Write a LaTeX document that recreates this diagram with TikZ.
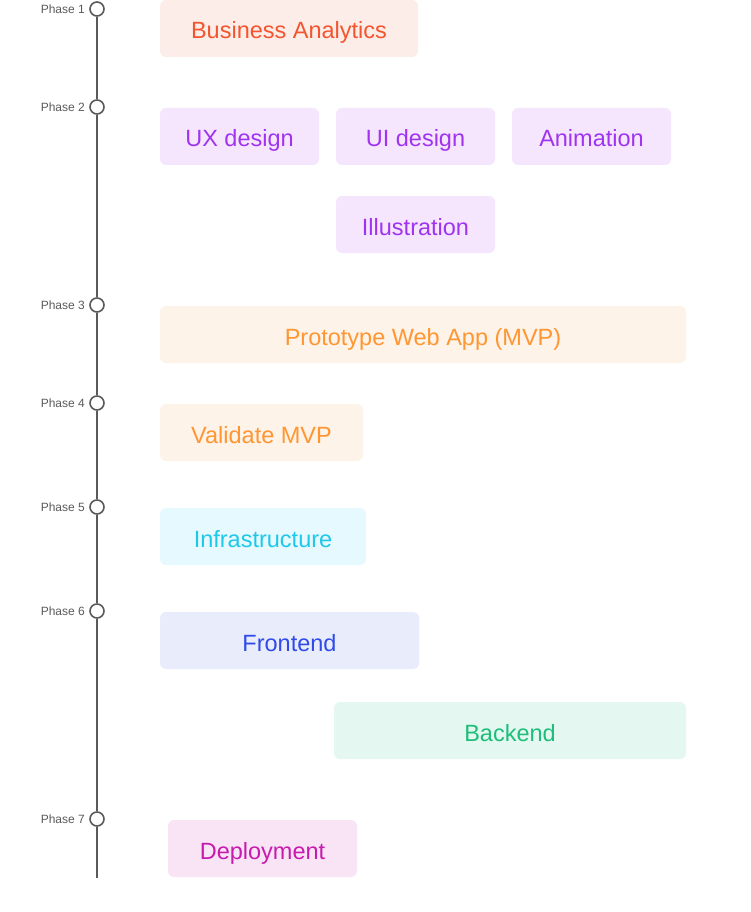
\documentclass[tikz,border=0pt]{standalone}
\usepackage{fontspec}
\setmainfont{Liberation Sans}
\definecolor{lineg}{HTML}{5A5A5A}
\definecolor{bafill}{HTML}{FDEDE8}\definecolor{batext}{HTML}{F4552F}
\definecolor{pufill}{HTML}{F5E6FE}\definecolor{putext}{HTML}{A033F0}
\definecolor{orfill}{HTML}{FEF3E8}\definecolor{ortext}{HTML}{FF9632}
\definecolor{cyfill}{HTML}{E6F9FE}\definecolor{cytext}{HTML}{1EC8E8}
\definecolor{blfill}{HTML}{E9ECFB}\definecolor{bltext}{HTML}{2F4BE8}
\definecolor{grfill}{HTML}{E4F7F0}\definecolor{grtext}{HTML}{1DBE7A}
\definecolor{mgfill}{HTML}{F9E4F6}\definecolor{mgtext}{HTML}{C71AAE}
\tikzset{
  phasedot/.style={circle,draw=lineg,fill=white,line width=1.6pt,minimum size=14pt,inner sep=0pt},
  phaselbl/.style={anchor=east,text=lineg,font=\fontsize{12}{14}\selectfont,inner sep=0pt},
  task/.style={rounded corners=6pt,minimum height=57pt,inner sep=0pt,
    text height=17pt,text depth=0pt,font=\fontsize{23.5}{28}\selectfont},
  tasktext/.style={inner sep=0pt,text height=17pt,text depth=0pt,font=\fontsize{23.5}{28}\selectfont,yshift=-2pt},
}
\begin{document}
\begin{tikzpicture}[x=1pt,y=-1pt]
\useasboundingbox (0,0) rectangle (750,912);
% timeline
\coordinate (tbot) at (97,878);
\node[phasedot] (p1) at (97,9) {};
\node[phasedot] (p2) at (97,107) {};
\node[phasedot] (p3) at (97,305) {};
\node[phasedot] (p4) at (97,403) {};
\node[phasedot] (p5) at (97,507) {};
\node[phasedot] (p6) at (97,611) {};
\node[phasedot] (p7) at (97,819) {};
\draw[lineg,line width=1.6pt] (p1.south) -- (p2.north);
\draw[lineg,line width=1.6pt] (p2.south) -- (p3.north);
\draw[lineg,line width=1.6pt] (p3.south) -- (p4.north);
\draw[lineg,line width=1.6pt] (p4.south) -- (p5.north);
\draw[lineg,line width=1.6pt] (p5.south) -- (p6.north);
\draw[lineg,line width=1.6pt] (p6.south) -- (p7.north);
\draw[lineg,line width=1.6pt] (p7.south) -- (tbot);
\node[phaselbl] (l1) at (85,9) {Phase 1};
\node[phaselbl] (l2) at (85,107) {Phase 2};
\node[phaselbl] (l3) at (85,305) {Phase 3};
\node[phaselbl] (l4) at (85,403) {Phase 4};
\node[phaselbl] (l5) at (85,507) {Phase 5};
\node[phaselbl] (l6) at (85,611) {Phase 6};
\node[phaselbl] (l7) at (85,819) {Phase 7};
% tasks
\node[task,fill=bafill,text=batext,minimum width=258pt] (ba) at (289,28.5) {};
\node[tasktext,text=batext] at (ba) {Business Analytics};
\node[task,fill=pufill,text=putext,minimum width=159pt] (ux) at (239.5,136.5) {};
\node[tasktext,text=putext] at (ux) {UX design};
\node[task,fill=pufill,text=putext,minimum width=159pt] (ui) at (415.5,136.5) {};
\node[tasktext,text=putext] at (ui) {UI design};
\node[task,fill=pufill,text=putext,minimum width=159pt] (an) at (591.5,136.5) {};
\node[tasktext,text=putext] at (an) {Animation};
\node[task,fill=pufill,text=putext,minimum width=159pt] (il) at (415.5,224.5) {};
\node[tasktext,text=putext] at (il) {Illustration};
\node[task,fill=orfill,text=ortext,minimum width=526pt] (pr) at (423,334.5) {};
\node[tasktext,text=ortext] at (pr) {Prototype Web App (MVP)};
\node[task,fill=orfill,text=ortext,minimum width=203pt] (va) at (261.5,432.5) {};
\node[tasktext,text=ortext] at (va) {Validate MVP};
\node[task,fill=cyfill,text=cytext,minimum width=206pt] (in) at (263,536.5) {};
\node[tasktext,text=cytext] at (in) {Infrastructure};
\node[task,fill=blfill,text=bltext,minimum width=259pt] (fe) at (289.5,640.5) {};
\node[tasktext,text=bltext] at (fe) {Frontend};
\node[task,fill=grfill,text=grtext,minimum width=352pt] (be) at (510,730.5) {};
\node[tasktext,text=grtext] at (be) {Backend};
\node[task,fill=mgfill,text=mgtext,minimum width=189pt] (de) at (262.5,848.5) {};
\node[tasktext,text=mgtext] at (de) {Deployment};
\end{tikzpicture}
\end{document}
